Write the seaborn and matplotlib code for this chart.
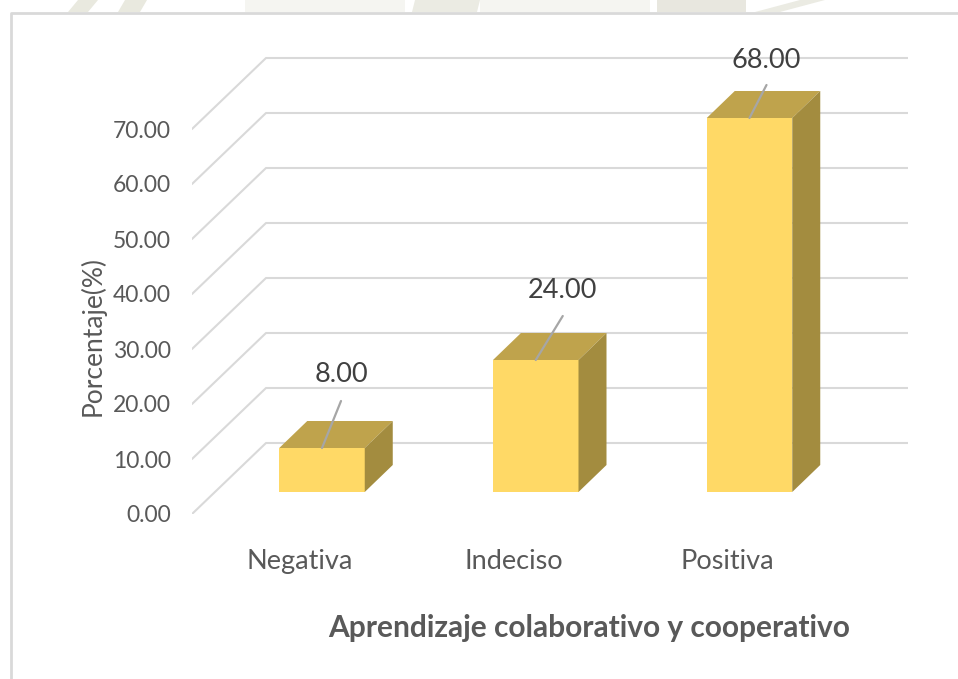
import matplotlib
matplotlib.use("Agg")
import matplotlib.pyplot as plt
import pandas as pd
import seaborn as sns
from matplotlib.lines import Line2D
from matplotlib.patches import Polygon
from matplotlib.transforms import Affine2D, IdentityTransform

categories = ["Negativa", "Indeciso", "Positiva"]
percent = [8.00, 24.00, 68.00]
y_ticks = [0, 10, 20, 30, 40, 50, 60, 70]

# pixel layout of the fake 3D look
W, H = 958, 679
PX_PER_UNIT = 5.5
BASE_Y = 492
AX_L, AX_R, AX_T, AX_B = 192, 908, 40, 514
FLOOR_DX = 74
WALL_SHIFT = 49
FRONT_SHIFT = -22
DEPTH_DX, DEPTH_DY = 28, 27
leader_ends = [(19, 47), (27, 44), (17, 33)]
label_offsets = [(19, 73), (27, 69), (17, 57)]
# faint watermark showing above the pasted chart: x at top, x at frame, width, colour
watermark = [(78, 68, 20, "#E9E9DF"), (125, 118, 22, "#E9E9DF"), (245, 245, 160, "#F5F5F1"),
             (415, 412, 65, "#EBEBE3"), (480, 480, 170, "#F5F5F1"), (657, 657, 89, "#E8E7DF"),
             (800, 755, 25, "#EBEBE3")]

FRONT = "#FFD966"
TOP = "#BFA34C"
SIDE = "#A38C3F"
GRID = "#D9D9D9"
TEXT = "#595959"

sns.set_theme(style="white")
plt.rcParams["font.family"] = ["Lato", "DejaVu Sans"]

df = pd.DataFrame({"categoria": categories, "porcentaje": percent})

fig = plt.figure(figsize=(W / 100, H / 100), dpi=100)
ax = fig.add_axes([AX_L / W, 1 - AX_B / H, (AX_R - AX_L) / W, (AX_B - AX_T) / H])
ax.patch.set_alpha(0)

sns.barplot(data=df, x="categoria", y="porcentaje", color=FRONT, saturation=1,
            width=0.4, linewidth=0, ax=ax, zorder=5)

ax.set_xlim((AX_L - 322) / 213.75, (AX_R - 322) / 213.75)
ax.set_ylim((BASE_Y - AX_B) / PX_PER_UNIT, (BASE_Y - AX_T) / PX_PER_UNIT)
sns.despine(ax=ax, left=True, bottom=True, top=True, right=True)

# wall gridlines and the diagonals on the side wall
base = ax.get_yaxis_transform()
wall_frac = FLOOR_DX / (AX_R - AX_L)
for v in y_ticks:
    p0 = base.transform((0, v)) + (0, FRONT_SHIFT)
    p1 = base.transform((wall_frac, v)) + (0, WALL_SHIFT)
    p2 = base.transform((1, v)) + (0, WALL_SHIFT)
    ax.add_line(Line2D([p0[0], p1[0], p2[0]], [p0[1], p1[1], p2[1]],
                       transform=IdentityTransform(), color=GRID, lw=1.5, zorder=1))

# top and side faces from the bars seaborn drew
for i, bar in enumerate(list(ax.patches)):
    x0, y0 = bar.get_x(), bar.get_y()
    x1, y1 = x0 + bar.get_width(), y0 + bar.get_height()
    bl, br = ax.transData.transform([(x0, y0), (x1, y0)])
    tl, tr = ax.transData.transform([(x0, y1), (x1, y1)])
    d = (DEPTH_DX, DEPTH_DY)
    ax.add_patch(Polygon([tl, tr, tr + d, tl + d], closed=True, facecolor=TOP, lw=0,
                         transform=IdentityTransform(), zorder=5))
    ax.add_patch(Polygon([br, br + d, tr + d, tr], closed=True, facecolor=SIDE, lw=0,
                         transform=IdentityTransform(), zorder=5))

    xc = x0 + bar.get_width() / 2
    ax.annotate("", xy=(xc, y1), xytext=leader_ends[i], textcoords="offset pixels",
                arrowprops=dict(arrowstyle="-", color="#A6A6A6", lw=1.6, shrinkA=0, shrinkB=0),
                zorder=6)
    ax.annotate(f"{percent[i]:.2f}", xy=(xc, y1), xytext=label_offsets[i],
                textcoords="offset pixels", ha="center", va="center",
                fontsize=19.5, color="#404040", zorder=7)

ax.set_yticks(y_ticks)
ax.set_yticklabels([f"{v:.2f}" for v in y_ticks], fontsize=16.5, color=TEXT)
ax.tick_params(axis="y", length=0, pad=15)
ax.tick_params(axis="x", length=0, pad=25.5)
ax.set_xticks(range(len(categories)))
ax.set_xticklabels(categories, fontsize=19.5, color=TEXT)
for lab in ax.get_yticklabels():
    lab.set_transform(lab.get_transform() + Affine2D().translate(0, FRONT_SHIFT))
for lab in ax.get_xticklabels():
    lab.set_transform(lab.get_transform() + Affine2D().translate(FRONT_SHIFT, 0))

ax.set_xlabel("")
ax.set_ylabel("")
fig.text(589 / W, 1 - 628 / H, "Aprendizaje colaborativo y cooperativo", ha="center", va="center",
         fontsize=21.5, fontweight="bold", color=TEXT)
fig.text(93 / W, 1 - 336.5 / H, "Porcentaje(%)", ha="center", va="center", rotation=90,
         fontsize=19, color=TEXT)

# picture frame of the pasted chart, with the watermark peeking out on top
for xt, xb, w, c in watermark:
    fig.add_artist(Polygon([(xt / W, 1), ((xt + w) / W, 1), ((xb + w) / W, 1 - 12 / H), (xb / W, 1 - 12 / H)],
                           closed=True, facecolor=c, lw=0, transform=fig.transFigure))
fig.add_artist(Line2D([11 / W, 11 / W, 1], [0, 1 - 13 / H, 1 - 13 / H], color=GRID, lw=2))

fig.savefig("out.png", dpi=100)
